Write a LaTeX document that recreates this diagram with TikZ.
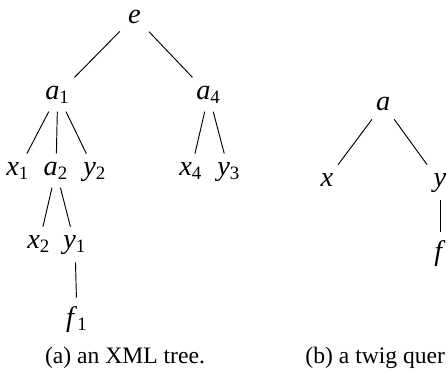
\documentclass[tikz,border=0pt]{standalone}
\usepackage{fontspec}
\setmainfont{Liberation Serif}
\newcommand{\lab}[2]{\textit{#1}\textsubscript{#2}}

\begin{document}
\begin{tikzpicture}[x=0.4237pt, y=-0.4237pt,
    treenode/.style={font=\fontsize{12}{14}\selectfont, anchor=base},
    subcap/.style={font=\fontsize{10}{12}\selectfont, inner sep=0pt}]
  \useasboundingbox (0,0) rectangle (448,376);
  % (a) the XML tree
  \node[treenode] (e)  at (134.5,23) {\textit{e}};
  \node[treenode] (a1) at (57.7,99)  {\lab{a}{1}};
  \node[treenode] (a4) at (208.7,99) {\lab{a}{4}};
  \node[treenode] (x1) at (18,175)   {\lab{x}{1}};
  \node[treenode] (a2) at (56,175)   {\lab{a}{2}};
  \node[treenode] (y2) at (95,175)   {\lab{y}{2}};
  \node[treenode] (x4) at (191,175)  {\lab{x}{4}};
  \node[treenode] (y3) at (229,175)  {\lab{y}{3}};
  \node[treenode] (x2) at (39,248)   {\lab{x}{2}};
  \node[treenode] (y1) at (75,248)   {\lab{y}{1}};
  \node[treenode] (f1) at (77,326)   {\lab{f}{1}};
  \foreach \p/\c in {e/a1, e/a4, a1/x1, a1/a2, a1/y2, a4/x4, a4/y3, a2/x2, a2/y1, y1/f1}
    \draw (\p) -- (\c);
  \node[subcap, anchor=base] (capa) at (125,363) {(a) an XML tree.};
  % (b) the twig query
  \node[treenode] (a) at (383.3,110.7) {\textit{a}};
  \node[treenode] (x) at (327,186)     {\textit{x}};
  \node[treenode] (y) at (440,186)     {\textit{y}};
  \node[treenode] (f) at (440,260)     {\textit{f}};
  \foreach \p/\c in {a/x, a/y, y/f}
    \draw (\p) -- (\c);
  \node[subcap, anchor=base west] (capb) at (305,363) {(b) a twig quer};
\end{tikzpicture}
\end{document}
